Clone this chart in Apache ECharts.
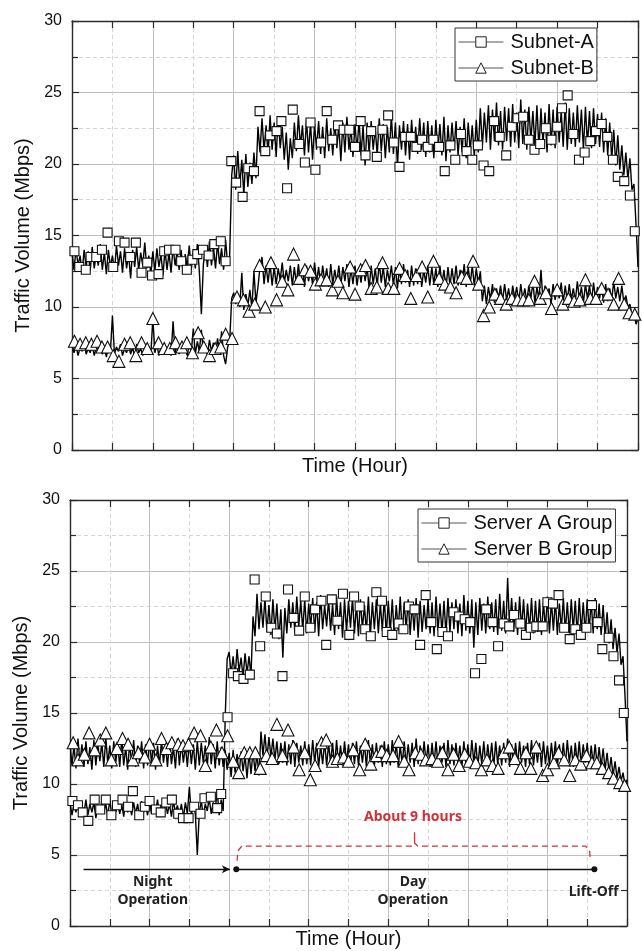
<!DOCTYPE html>
<html>
<head>
<meta charset="utf-8">
<script src="https://cdn.jsdelivr.net/npm/echarts@6/dist/echarts.min.js"></script>
<style>
html, body { margin: 0; padding: 0; background: #fff; }
#chart { width: 642px; height: 951px; }
</style>
</head>
<body>
<div id="chart"></div>
<script>
// line samples are every 0.025 hour, 0 .. 7 h
var STEP = 0.025;

// top panel
var subnetA = [
  13.8,12.6,14.1,12.9,13.6,12.4,14.0,12.8,13.9,12.5,
  14.2,12.7,13.7,12.9,14.4,12.6,13.8,12.3,14.0,12.8,
  13.6,12.5,14.3,12.9,13.9,12.4,14.1,12.7,13.7,12.0,
  14.0,12.8,14.2,12.6,13.8,12.9,14.5,12.7,13.6,12.3,
  13.9,12.5,14.1,12.8,13.7,12.2,14.0,12.6,13.8,12.4,
  14.2,12.9,13.9,12.6,14.0,12.3,13.7,12.8,14.3,12.6,
  13.9,12.7,14.4,12.5,9.5,13.0,14.1,12.8,14.6,12.9,
  14.2,12.7,14.5,13.0,14.1,12.6,14.7,12.9,13.6,19.2,
  20.6,18.2,20.9,18.5,20.3,17.8,20.7,18.4,20.1,18.6,
  20.8,19.0,22.6,20.8,23.2,20.9,22.7,20.6,23.4,21.0,
  22.9,20.5,23.3,21.1,22.6,20.3,22.2,19.6,21.8,20.4,
  22.9,20.9,23.4,21.2,22.7,20.6,23.1,20.8,22.9,20.3,
  22.8,21.0,23.0,20.7,22.6,20.4,23.2,20.9,22.5,20.6,
  23.0,21.1,22.7,20.2,22.9,20.8,23.3,21.0,22.6,20.5,
  22.8,20.9,23.1,20.6,22.7,19.9,22.9,20.7,23.0,21.0,
  22.5,20.6,23.2,20.9,22.8,20.4,22.6,20.8,23.4,20.7,
  22.9,19.8,22.7,21.0,23.0,20.6,22.8,20.3,23.1,20.9,
  22.6,20.7,23.2,21.0,22.9,20.5,23.0,20.8,22.7,20.4,
  23.1,20.9,22.8,20.6,23.3,20.2,22.7,20.8,22.9,21.0,
  23.0,20.6,22.6,20.8,23.2,20.4,22.9,20.9,22.7,20.5,
  23.1,20.8,23.9,21.2,23.6,21.5,24.1,21.0,23.8,21.6,
  24.3,21.3,23.7,21.0,24.0,21.6,23.9,21.2,24.2,21.5,
  23.6,21.1,24.5,21.4,23.8,21.0,24.0,21.6,23.7,21.3,
  24.1,21.0,23.9,21.4,23.6,20.8,24.2,21.3,23.8,21.1,
  24.0,21.5,23.7,21.2,24.3,21.0,23.9,21.4,23.6,21.2,
  24.1,21.5,23.8,21.0,24.0,21.3,23.7,21.1,23.9,21.4,
  23.5,21.2,23.6,20.8,23.2,20.6,22.9,20.3,22.4,19.9,
  22.0,19.6,21.3,19.2,20.8,18.9,20.4,18.2,18.6,15.8,12.8
];
var subnetB = [
  7.4,6.8,7.3,6.6,7.2,6.9,7.5,6.7,7.1,6.8,
  7.3,6.6,7.2,6.9,7.4,6.7,7.2,6.5,7.3,6.8,
  9.4,6.7,7.2,6.9,7.4,6.6,7.1,6.8,7.3,6.7,
  7.2,6.5,7.4,6.8,7.1,6.6,7.3,6.9,7.2,6.7,
  9.2,6.8,7.4,6.6,7.2,6.9,7.3,6.7,7.1,6.6,
  9.0,6.8,7.3,6.7,7.5,6.9,7.2,6.6,7.4,6.8,
  8.5,6.7,7.6,6.9,8.4,6.8,7.3,6.6,7.7,6.9,
  7.5,6.7,7.8,6.8,8.3,6.6,6.0,7.2,7.6,10.6,
  11.0,10.2,10.9,10.0,12.4,9.8,10.9,10.1,11.2,9.9,
  12.5,10.3,11.4,12.8,13.5,11.6,12.9,11.7,13.0,11.5,
  12.8,11.6,12.7,11.9,13.1,11.7,12.6,11.8,12.9,11.5,
  12.8,11.6,13.0,11.7,12.7,11.4,12.9,11.8,12.6,11.6,
  13.1,11.7,12.8,11.5,12.9,11.8,12.7,11.4,13.0,11.6,
  12.6,11.7,12.9,11.5,12.8,11.8,13.0,11.4,12.7,11.6,
  12.9,11.5,12.6,11.7,13.0,11.8,12.8,11.3,12.9,11.6,
  12.7,11.5,13.1,11.7,12.8,11.4,12.6,11.8,12.9,11.5,
  12.8,11.3,12.7,11.6,13.0,11.7,12.6,11.4,12.9,11.5,
  12.7,11.6,12.8,11.4,12.6,11.7,12.9,11.5,12.8,11.6,
  12.7,11.4,12.9,11.6,12.6,11.3,12.8,11.5,12.7,11.6,
  12.9,11.5,12.6,11.7,13.0,11.4,12.8,11.6,12.9,11.5,
  12.7,11.6,12.5,10.4,11.5,10.2,11.4,10.5,11.6,10.3,
  11.3,10.6,11.5,10.4,11.6,10.5,11.3,10.2,11.5,10.6,
  11.4,10.3,11.6,10.5,11.3,10.4,11.5,10.6,11.7,10.3,
  11.4,10.5,12.6,10.4,11.5,10.6,11.3,10.2,11.6,10.5,
  11.4,10.6,11.7,10.3,11.5,10.4,11.6,10.5,11.3,10.4,
  11.8,10.5,11.4,10.3,11.6,10.6,11.5,10.4,11.7,10.5,
  11.4,10.6,11.5,10.3,11.6,10.4,11.3,10.5,11.8,10.6,
  11.4,10.4,11.5,10.3,10.8,10.0,10.2,9.4,9.6,8.8,9.2
];
var subnetAMarks = [[0.03,13.9],[0.09,12.8],[0.17,12.6],[0.23,13.5],[0.30,13.5],[0.37,14.0],[0.44,15.2],[0.51,12.8],[0.58,14.6],[0.65,14.5],[0.72,13.5],[0.79,14.5],[0.86,12.4],[0.93,13.1],[0.99,12.2],[1.07,12.3],[1.14,13.9],[1.20,14.0],[1.28,14.0],[1.35,13.2],[1.42,12.6],[1.49,13.3],[1.55,13.7],[1.62,14.0],[1.69,13.6],[1.76,14.4],[1.84,14.6],[1.90,13.2],[1.97,20.2],[2.03,18.7],[2.11,17.7],[2.18,19.7],[2.25,19.5],[2.32,23.7],[2.39,20.9],[2.45,22.0],[2.53,22.3],[2.59,23.0],[2.66,18.3],[2.73,23.8],[2.81,21.4],[2.88,20.1],[2.95,22.9],[3.01,19.6],[3.08,21.5],[3.15,23.7],[3.22,21.7],[3.29,22.7],[3.36,22.4],[3.43,22.4],[3.50,21.2],[3.57,23.0],[3.63,20.6],[3.70,22.3],[3.77,20.5],[3.84,22.4],[3.91,23.4],[3.98,21.5],[4.05,19.8],[4.12,21.9],[4.19,21.9],[4.26,21.2],[4.33,21.7],[4.40,21.2],[4.47,21.7],[4.54,21.2],[4.61,19.5],[4.68,21.3],[4.74,20.3],[4.81,22.1],[4.88,20.9],[4.95,20.3],[5.02,21.3],[5.09,19.9],[5.16,19.5],[5.22,23.0],[5.29,21.9],[5.37,20.6],[5.44,22.6],[5.51,23.2],[5.58,23.3],[5.65,21.7],[5.72,21.0],[5.79,21.4],[5.86,22.5],[5.93,21.7],[6.00,22.6],[6.06,23.9],[6.13,24.8],[6.20,22.1],[6.27,20.3],[6.34,20.8],[6.41,21.6],[6.48,22.3],[6.55,22.8],[6.62,21.9],[6.69,20.3],[6.75,19.1],[6.83,18.8],[6.90,17.8],[6.96,15.3]];
var subnetBMarks = [[0.03,7.6],[0.10,7.4],[0.17,7.5],[0.24,7.4],[0.31,7.6],[0.37,7.2],[0.44,7.2],[0.51,6.6],[0.58,6.2],[0.65,7.4],[0.72,7.5],[0.79,6.6],[0.86,7.5],[0.93,7.1],[1.00,9.2],[1.07,7.5],[1.14,7.1],[1.21,7.1],[1.28,7.5],[1.36,7.2],[1.42,7.5],[1.49,6.8],[1.56,8.2],[1.63,7.2],[1.70,6.6],[1.77,7.1],[1.84,7.2],[1.90,8.1],[1.98,7.8],[2.04,10.7],[2.12,10.5],[2.19,9.7],[2.26,10.2],[2.32,12.9],[2.39,10.0],[2.46,13.1],[2.53,10.5],[2.60,11.8],[2.67,11.2],[2.74,13.7],[2.81,12.0],[2.88,12.6],[2.95,12.5],[3.01,11.6],[3.08,11.9],[3.15,11.9],[3.22,11.2],[3.29,11.8],[3.35,11.0],[3.44,12.8],[3.50,10.9],[3.57,12.6],[3.63,12.9],[3.70,11.3],[3.77,11.4],[3.84,13.1],[3.91,11.3],[3.98,11.3],[4.05,12.7],[4.12,12.2],[4.19,10.6],[4.26,12.2],[4.33,12.8],[4.40,10.7],[4.47,13.2],[4.54,12.0],[4.61,11.6],[4.68,11.4],[4.75,11.0],[4.82,12.1],[4.88,12.0],[4.96,13.2],[5.03,11.6],[5.09,9.4],[5.16,10.0],[5.23,10.9],[5.30,10.6],[5.37,10.2],[5.44,10.6],[5.51,10.5],[5.58,10.5],[5.65,10.5],[5.72,11.8],[5.79,10.6],[5.86,11.0],[5.93,9.9],[6.00,11.2],[6.07,10.2],[6.14,10.6],[6.21,10.4],[6.28,10.5],[6.35,11.9],[6.41,10.6],[6.48,10.6],[6.55,11.3],[6.63,10.9],[6.70,10.2],[6.76,12.0],[6.83,10.2],[6.89,9.6],[6.96,9.5]];

// bottom panel
var serverA = [
  8.7,7.8,8.6,8.0,8.8,7.7,8.5,7.9,8.9,7.8,
  8.6,8.0,8.7,7.6,8.5,7.9,8.8,8.0,8.6,7.7,
  8.9,7.8,8.5,8.0,8.7,7.9,8.6,7.7,8.8,8.0,
  8.5,7.8,8.7,7.9,8.6,7.6,8.8,8.0,8.5,7.8,
  8.7,7.9,8.6,8.0,8.9,7.7,8.5,7.8,8.7,7.9,
  8.6,7.7,8.8,8.0,8.5,7.8,8.6,7.6,8.7,7.9,
  9.8,7.8,8.6,7.9,5.0,8.0,8.8,7.7,8.6,8.1,
  9.0,7.9,8.7,8.2,9.5,7.8,8.9,8.1,14.6,18.8,
  19.3,17.7,19.0,17.6,19.5,17.9,18.9,17.5,19.2,17.8,
  19.0,17.6,21.8,20.4,23.4,20.9,22.8,21.0,23.1,20.7,
  22.6,20.5,23.0,20.8,22.7,20.2,22.3,18.9,22.4,20.6,
  23.0,21.0,22.8,20.7,23.2,21.1,22.9,20.8,23.0,20.6,
  22.7,21.0,23.1,20.7,22.8,20.4,23.3,20.9,22.6,21.1,
  23.0,20.8,22.7,20.5,23.2,20.9,22.8,20.3,23.0,20.7,
  22.9,21.0,23.1,20.6,22.7,20.4,23.0,20.9,22.6,20.7,
  23.2,20.5,22.8,20.9,23.0,20.6,22.7,20.8,23.1,20.5,
  22.9,20.7,23.0,20.4,22.6,20.8,23.2,20.6,22.8,20.9,
  23.0,20.5,22.7,20.8,23.1,20.3,22.9,20.7,22.6,20.9,
  23.0,20.6,22.8,20.4,23.2,20.8,22.7,20.6,22.9,20.5,
  23.1,20.7,22.8,20.9,23.0,20.6,22.7,20.4,23.3,20.8,
  22.9,20.6,23.0,19.6,22.8,20.5,23.1,20.8,22.7,20.6,
  23.2,20.9,22.8,20.7,23.0,20.5,23.4,20.8,22.9,20.6,
  24.5,20.9,23.1,20.7,22.8,20.5,23.2,20.9,23.0,20.6,
  22.7,20.8,23.1,20.6,22.9,20.7,23.0,20.5,22.8,20.9,
  23.2,20.6,22.9,20.8,23.0,20.5,22.7,20.9,23.1,20.7,
  22.8,20.6,23.0,20.8,22.9,20.5,23.1,20.7,22.8,20.6,
  23.0,20.8,22.9,20.6,23.1,20.9,22.7,20.5,22.6,20.3,
  22.1,19.9,21.6,19.5,21.0,19.2,20.6,18.4,19.0,16.2,13.0
];
var serverB = [
  12.9,11.3,12.7,11.1,13.2,11.5,12.8,11.2,13.0,11.4,
  12.6,11.0,13.1,11.3,12.8,11.6,12.9,11.2,13.3,11.4,
  12.7,11.1,13.0,11.5,12.8,11.2,13.2,11.3,12.6,11.0,
  12.9,11.4,13.1,11.2,12.7,11.5,13.0,11.1,12.8,11.3,
  13.2,11.4,12.9,11.0,12.7,11.3,13.1,11.5,12.8,11.2,
  13.0,11.4,12.6,11.1,13.2,11.3,12.9,11.5,12.7,11.2,
  13.1,11.4,12.8,11.0,13.0,11.3,12.9,11.5,12.7,11.2,
  13.3,11.4,12.8,11.1,13.0,11.3,12.6,11.2,12.4,11.0,
  12.2,10.5,12.4,10.8,12.1,10.6,12.3,10.9,12.0,10.4,
  12.2,10.7,12.3,10.9,12.1,10.6,13.7,12.0,13.5,11.8,
  13.3,11.9,13.2,11.7,13.0,11.4,12.9,11.5,13.0,11.3,
  12.8,11.4,13.1,11.2,12.9,11.5,12.7,11.3,13.0,11.4,
  12.8,11.3,13.1,11.5,12.9,11.2,12.7,11.4,13.0,11.3,
  12.8,11.5,12.9,11.2,13.1,11.4,12.7,11.3,13.0,11.5,
  12.8,11.2,12.9,11.4,13.0,11.3,12.7,11.5,12.9,11.2,
  13.1,11.4,12.8,11.3,12.9,11.5,12.7,11.2,13.0,11.4,
  12.8,11.3,13.1,11.5,12.9,11.2,12.7,11.4,13.0,11.3,
  12.8,11.5,12.9,11.2,13.2,11.4,12.7,11.3,13.0,11.5,
  12.8,11.2,12.9,11.4,13.0,11.3,12.7,11.5,12.9,11.2,
  13.1,11.4,12.8,11.3,12.9,11.5,12.7,11.2,13.0,11.4,
  12.8,11.3,13.1,11.5,12.9,11.2,12.7,11.4,13.0,11.3,
  12.8,11.5,12.9,11.2,13.0,11.4,12.7,11.3,12.9,11.5,
  13.2,11.2,12.8,11.4,12.9,11.3,13.0,11.5,12.7,11.2,
  12.9,11.4,13.1,11.3,12.8,11.5,12.9,11.2,13.0,11.4,
  12.7,11.3,12.9,11.5,13.0,11.2,12.8,11.4,12.9,11.3,
  13.1,11.5,12.7,11.2,12.9,11.4,13.0,11.3,12.8,11.5,
  12.9,11.2,12.7,11.4,12.8,11.3,12.6,11.2,12.5,11.0,
  12.2,10.8,11.9,10.6,11.6,10.4,11.2,10.2,10.8,9.9,10.3
];
var serverAMarks = [[0.03,8.8],[0.10,8.5],[0.16,8.0],[0.23,7.4],[0.31,8.9],[0.38,8.2],[0.45,8.9],[0.52,7.8],[0.59,8.5],[0.66,8.9],[0.73,8.4],[0.79,9.5],[0.87,7.8],[0.94,8.4],[1.00,8.8],[1.08,8.2],[1.14,8.0],[1.21,8.7],[1.28,8.9],[1.36,7.9],[1.42,7.6],[1.49,7.6],[1.56,8.4],[1.64,7.9],[1.69,9.0],[1.77,9.1],[1.85,8.3],[1.90,9.3],[1.98,14.7],[2.05,17.8],[2.11,17.6],[2.18,17.4],[2.26,17.7],[2.32,24.4],[2.39,19.7],[2.46,23.2],[2.53,21.0],[2.60,20.6],[2.67,17.6],[2.74,23.7],[2.81,21.7],[2.88,20.8],[2.95,23.2],[3.02,21.0],[3.08,22.3],[3.16,22.9],[3.22,19.8],[3.29,23.0],[3.36,21.5],[3.43,23.4],[3.51,20.5],[3.57,23.2],[3.64,22.5],[3.71,20.9],[3.78,20.4],[3.85,23.5],[3.92,22.9],[3.98,20.7],[4.05,20.5],[4.13,21.3],[4.19,20.9],[4.26,22.5],[4.33,22.3],[4.40,19.8],[4.47,23.3],[4.54,21.4],[4.61,19.5],[4.68,20.7],[4.75,20.4],[4.82,22.1],[4.89,21.8],[4.96,21.6],[5.03,21.4],[5.09,17.8],[5.17,18.8],[5.23,22.3],[5.31,21.4],[5.38,19.7],[5.45,21.3],[5.52,21.1],[5.58,21.9],[5.66,21.3],[5.73,20.5],[5.79,21.0],[5.86,21.1],[5.94,21.1],[6.00,22.8],[6.07,22.7],[6.14,23.3],[6.21,21.0],[6.28,20.2],[6.35,20.9],[6.42,20.5],[6.49,21.0],[6.56,22.6],[6.63,21.4],[6.69,19.5],[6.77,20.3],[6.83,19.0],[6.90,17.3],[6.96,15.0]];
var serverBMarks = [[0.04,12.9],[0.10,11.7],[0.18,12.1],[0.24,13.6],[0.31,12.4],[0.38,13.1],[0.45,13.6],[0.52,11.7],[0.59,12.5],[0.66,13.2],[0.73,12.8],[0.79,11.7],[0.86,12.2],[0.94,11.9],[1.00,12.8],[1.08,11.7],[1.15,13.2],[1.21,12.5],[1.28,12.9],[1.36,12.8],[1.42,12.7],[1.49,12.8],[1.56,13.6],[1.64,13.4],[1.70,11.3],[1.77,12.6],[1.84,13.8],[1.91,12.2],[1.98,13.4],[2.05,11.6],[2.12,10.8],[2.19,12.2],[2.26,12.2],[2.33,12.2],[2.39,11.1],[2.47,12.0],[2.54,11.8],[2.60,14.2],[2.67,12.0],[2.74,13.8],[2.81,12.6],[2.88,11.0],[2.95,12.2],[3.02,10.3],[3.08,11.3],[3.16,12.9],[3.22,13.1],[3.30,11.6],[3.36,11.8],[3.44,11.9],[3.50,11.6],[3.56,12.4],[3.64,11.0],[3.71,12.8],[3.78,11.4],[3.85,12.0],[3.92,12.3],[3.98,12.0],[4.06,12.0],[4.13,13.0],[4.20,11.6],[4.26,11.0],[4.34,12.2],[4.41,12.1],[4.47,11.7],[4.55,11.8],[4.62,11.6],[4.68,12.2],[4.75,11.0],[4.82,12.1],[4.89,11.3],[4.96,12.1],[5.02,11.6],[5.10,11.5],[5.17,11.0],[5.24,11.7],[5.31,11.3],[5.38,11.1],[5.45,12.2],[5.52,12.6],[5.59,11.8],[5.66,11.1],[5.73,12.2],[5.79,11.1],[5.86,12.6],[5.94,10.6],[6.00,11.0],[6.08,11.5],[6.14,12.2],[6.21,11.7],[6.28,10.6],[6.35,11.7],[6.42,11.4],[6.49,12.0],[6.56,11.5],[6.62,11.5],[6.69,11.1],[6.77,10.8],[6.83,10.4],[6.91,10.1],[6.97,9.9]];

// annotation in bottom panel (hours, Mbps)
var bracket = [[2.10,4.6],[2.11,5.3],[2.16,5.63],[4.29,5.63],[4.33,5.85],[4.33,6.6],[4.33,5.85],[4.37,5.63],[6.48,5.63],[6.53,5.3],[6.54,4.6]];
var nightSpan = [0.17, 2.01];
var daySpan = [2.09, 6.59];
var phaseLevel = 4;

var FONT = "'Liberation Sans', Arial, sans-serif";
var LABEL_FONT = "'Noto Sans', 'Noto Sans CJK KR', sans-serif";
var AXIS = '#2b2b2b';
var RED = '#d42f38';

function pairs(vals) {
  return vals.map(function (v, i) { return [+(i * STEP).toFixed(3), v]; });
}

function xAxisPair(gi, nameGap) {
  var tick = { inside: true, length: 7, lineStyle: { color: AXIS, width: 1.2 } };
  var minor = { show: true, splitNumber: 2, length: 7, lineStyle: { color: AXIS, width: 1.2 } };
  return [{
    gridIndex: gi, type: 'value', min: 0, max: 7, interval: 1, position: 'bottom',
    name: 'Time (Hour)', nameLocation: 'middle', nameGap: nameGap,
    nameTextStyle: { fontSize: 20, fontFamily: FONT, color: '#111' },
    axisLabel: { show: false },
    axisLine: { onZero: false, lineStyle: { color: AXIS, width: 1.4 } },
    axisTick: tick, minorTick: minor,
    splitLine: { show: true, lineStyle: { color: '#c0c0c0', width: 1 } },
    minorSplitLine: { show: true, lineStyle: { color: '#d6d6d6', width: 1, type: [4, 3] } }
  }, {
    gridIndex: gi, type: 'value', min: 0, max: 7, interval: 1, position: 'top',
    axisLabel: { show: false },
    axisLine: { onZero: false, lineStyle: { color: AXIS, width: 1.4 } },
    axisTick: tick, minorTick: minor,
    splitLine: { show: false }
  }];
}

function yAxisPair(gi) {
  var tick = { inside: true, length: 7, lineStyle: { color: AXIS, width: 1.2 } };
  var minor = { show: true, splitNumber: 2, length: 6, lineStyle: { color: AXIS, width: 1.2 } };
  return [{
    gridIndex: gi, type: 'value', min: 0, max: 30, interval: 5, position: 'left',
    name: 'Traffic Volume (Mbps)', nameLocation: 'middle', nameGap: 38,
    nameTextStyle: { fontSize: 20, fontFamily: FONT, color: '#111' },
    axisLabel: { fontSize: 16, fontFamily: FONT, color: '#111', margin: 10 },
    axisLine: { show: true, onZero: false, lineStyle: { color: AXIS, width: 1.4 } },
    axisTick: tick, minorTick: minor,
    splitLine: { show: true, lineStyle: { color: '#c0c0c0', width: 1 } },
    minorSplitLine: { show: true, lineStyle: { color: '#d6d6d6', width: 1, type: [4, 3] } }
  }, {
    gridIndex: gi, type: 'value', min: 0, max: 30, interval: 5, position: 'right',
    axisLabel: { show: false },
    axisLine: { show: true, onZero: false, lineStyle: { color: AXIS, width: 1.4 } },
    axisTick: tick, minorTick: minor,
    splitLine: { show: false }
  }];
}

function lineSeries(name, vals, axis, symbol) {
  return {
    type: 'line', name: name, xAxisIndex: axis, yAxisIndex: axis, data: pairs(vals),
    symbol: symbol, symbolSize: 9, showSymbol: false, silent: true, z: 2,
    lineStyle: { color: '#000', width: 1.4 },
    itemStyle: { color: '#fff', borderColor: '#111', borderWidth: 1 }
  };
}

function markSeries(name, marks, axis, symbol, size) {
  return {
    type: 'scatter', name: name, xAxisIndex: axis, yAxisIndex: axis, data: marks,
    symbol: symbol, symbolSize: size, silent: true, z: 4,
    itemStyle: { color: '#fff', borderColor: '#111', borderWidth: 1.1, opacity: 1 }
  };
}

function legendBox(names, left, top) {
  return {
    data: names, orient: 'vertical', left: left, top: top, selectedMode: false,
    padding: [4, 3, 3, 3], itemGap: 6, itemWidth: 45, itemHeight: 13,
    borderColor: '#333', borderWidth: 1, backgroundColor: '#fff',
    textStyle: { fontSize: 20, fontFamily: FONT, color: '#111', lineHeight: 20, padding: [0, 0, 0, 2] },
    itemStyle: { color: '#fff', borderColor: '#222', borderWidth: 1 },
    lineStyle: { color: '#555', width: 1 }
  };
}

function textMark(coord, text, color, size) {
  return {
    coord: coord, symbol: 'circle', symbolSize: 1,
    itemStyle: { color: 'rgba(0,0,0,0)' },
    label: {
      show: true, position: 'inside', formatter: text, color: color,
      fontSize: size, fontWeight: 'bold', fontFamily: LABEL_FONT, lineHeight: 18, align: 'center'
    }
  };
}

var myChart = echarts.init(document.getElementById('chart'), null, { renderer: 'canvas' });

myChart.setOption({
  animation: false,
  backgroundColor: '#fff',
  grid: [
    { left: 72, top: 21, right: 4, bottom: 501 },
    { left: 70, top: 500, right: 15, bottom: 25 }
  ],
  xAxis: xAxisPair(0, 6).concat(xAxisPair(1, 3)),
  yAxis: yAxisPair(0).concat(yAxisPair(1)),
  legend: [
    legendBox(['Subnet-A', 'Subnet-B'], 455, 28),
    legendBox(['Server A Group', 'Server B Group'], 418, 509)
  ],
  series: [
    lineSeries('Subnet-A', subnetA, 0, 'rect'),
    lineSeries('Subnet-B', subnetB, 0, 'triangle'),
    markSeries('Subnet-A', subnetAMarks, 0, 'rect', 9),
    markSeries('Subnet-B', subnetBMarks, 0, 'triangle', 12),
    lineSeries('Server A Group', serverA, 2, 'rect'),
    lineSeries('Server B Group', serverB, 2, 'triangle'),
    markSeries('Server A Group', serverAMarks, 2, 'rect', 9),
    markSeries('Server B Group', serverBMarks, 2, 'triangle', 12),
    {
      type: 'line', name: 'phases', xAxisIndex: 2, yAxisIndex: 2, data: bracket,
      symbol: 'none', silent: true, z: 5,
      lineStyle: { color: RED, width: 1.3, type: [6, 4] },
      markLine: {
        silent: true, animation: false,
        label: { show: false },
        lineStyle: { color: '#111', width: 1.4, type: 'solid' },
        data: [
          [{ coord: [nightSpan[0], phaseLevel], symbol: 'none' },
           { coord: [nightSpan[1], phaseLevel], symbol: 'arrow', symbolSize: [6, 8] }],
          [{ coord: [daySpan[0], phaseLevel], symbol: 'circle', symbolSize: 6 },
           { coord: [daySpan[1], phaseLevel], symbol: 'circle', symbolSize: 6 }]
        ]
      },
      markPoint: {
        silent: true, animation: false,
        data: [
          textMark([1.04, 2.46], 'Night\nOperation', '#222', 14),
          textMark([4.31, 2.46], 'Day\nOperation', '#222', 14),
          textMark([6.58, 2.39], 'Lift-Off', '#222', 14),
          textMark([4.31, 7.68], 'About 9 hours', RED, 14)
        ]
      }
    }
  ]
});
</script>
</body>
</html>
